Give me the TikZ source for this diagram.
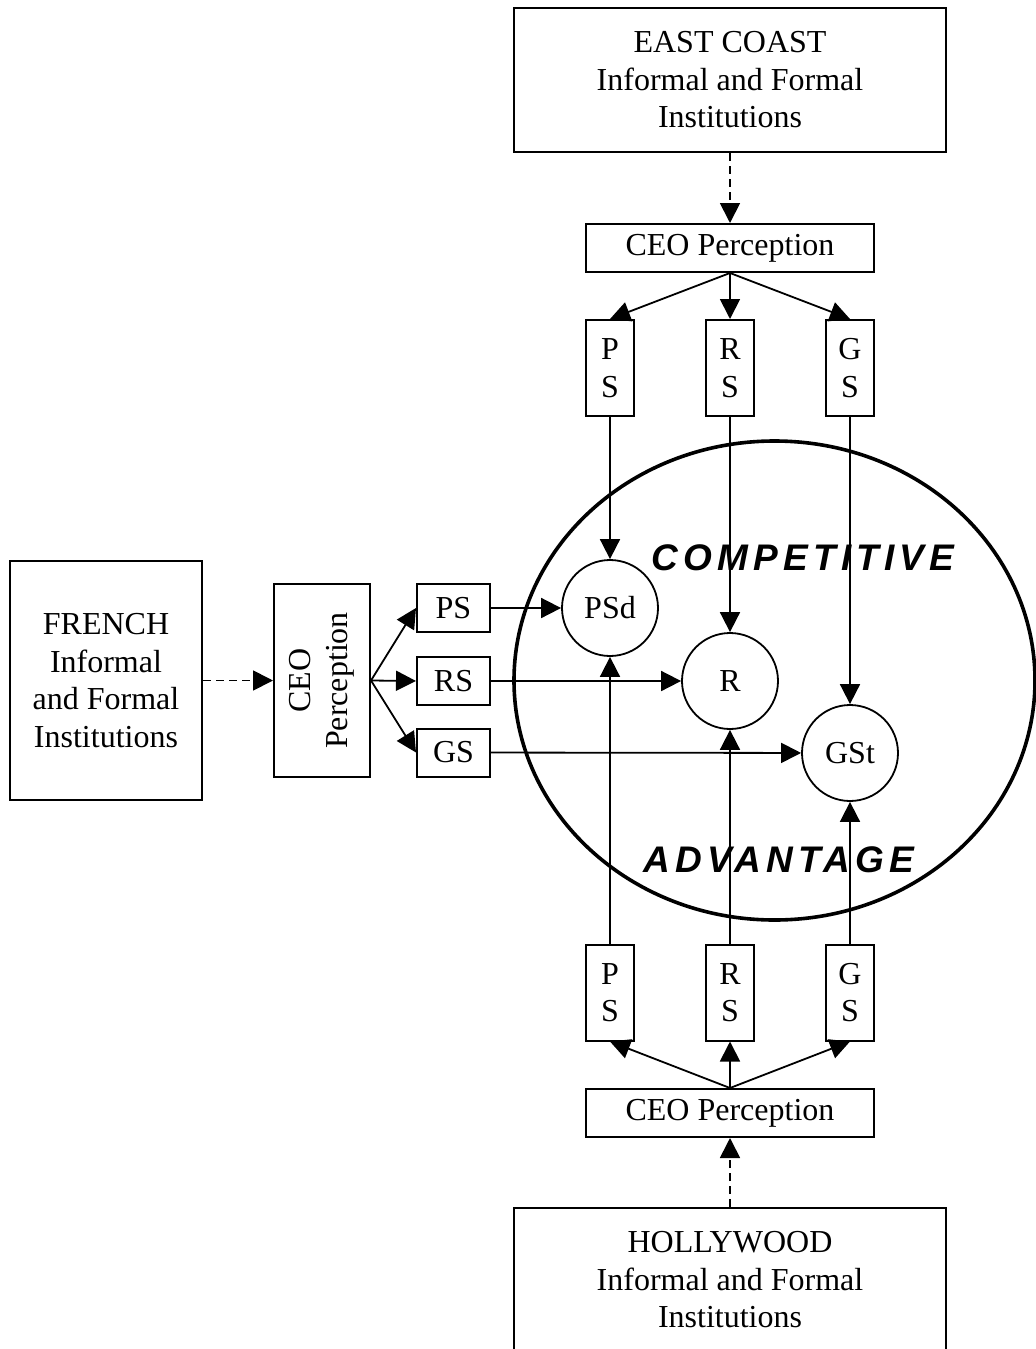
\documentclass[tikz,border=0pt]{standalone}
\usepackage{fontspec}
\setmainfont{Liberation Serif}
\newfontfamily\advfont[LetterSpace=14]{Liberation Sans}
\usetikzlibrary{arrows.meta}

\begin{document}
\begin{tikzpicture}[x=0.5pt,y=-0.5pt,
    every node/.style={font=\fontsize{16}{18.75}\selectfont},
    box/.style={draw, line width=1pt, inner sep=0pt, align=center},
    ring/.style={draw, circle, line width=0.9pt, minimum size=48pt, inner sep=0pt},
    bigword/.style={font=\advfont\fontsize{18.5}{22}\selectfont\bfseries\itshape},
    arr/.style={line width=0.9pt, -{Triangle[length=10pt,width=10pt]}},
    dasharr/.style={arr, dash pattern=on 4pt off 2.5pt}]
  \useasboundingbox (0,0) rectangle (1036,1349);
  % competitive advantage
  \draw [line width=1.8pt] (774.5,680.5) ellipse [x radius=130.25pt, y radius=119.75pt];
  \node [bigword] (comp) at (803,558) {COMPETITIVE};
  \node [bigword] (adv) at (779,860) {ADVANTAGE};
  \node [ring] (psd) at (610,608) {PSd};
  \node [ring] (res) at (730,681) {R};
  \node [ring] (gst) at (850,753) {GSt};
  % east coast
  \node [box, minimum width=216pt, minimum height=72pt] (east) at (730,80) {EAST COAST\\Informal and Formal\\Institutions};
  \node [box, minimum width=144pt, minimum height=24pt] (ceoTop) at (730,248) {CEO Perception};
  \node [box, minimum width=24pt, minimum height=48pt] (psTop) at (610,368) {P\\S};
  \node [box, minimum width=24pt, minimum height=48pt] (rsTop) at (730,368) {R\\S};
  \node [box, minimum width=24pt, minimum height=48pt] (gsTop) at (850,368) {G\\S};
  % french
  \node [box, minimum width=96pt, minimum height=119.5pt] (french) at (106,680.5) {FRENCH\\Informal\\and Formal\\Institutions};
  \node [box, minimum width=48pt, minimum height=96.5pt] (ceoLeft) at (322,680.5) {};
  \node [rotate=90, align=center] (ceoLeftText) at (ceoLeft) {CEO\\Perception};
  \node [box, minimum width=36.5pt, minimum height=24pt] (psLeft) at (453.5,608) {PS};
  \node [box, minimum width=36.5pt, minimum height=24pt] (rsLeft) at (453.5,681) {RS};
  \node [box, minimum width=36.5pt, minimum height=24pt] (gsLeft) at (453.5,752.5) {GS};
  % hollywood
  \node [box, minimum width=24pt, minimum height=48pt] (psBot) at (610,992.5) {P\\S};
  \node [box, minimum width=24pt, minimum height=48pt] (rsBot) at (730,992.5) {R\\S};
  \node [box, minimum width=24pt, minimum height=48pt] (gsBot) at (850,992.5) {G\\S};
  \node [box, minimum width=144pt, minimum height=24pt] (ceoBot) at (730,1113) {CEO Perception};
  \node [box, minimum width=216pt, minimum height=72pt] (hollywood) at (730,1280) {HOLLYWOOD\\Informal and Formal\\Institutions};
  % connectors
  \draw [dasharr] (east) -- (ceoTop);
  \draw [dasharr] (french) -- (ceoLeft);
  \draw [dasharr] (hollywood) -- (ceoBot);
  \foreach \n in {psTop,rsTop,gsTop}
    \draw [arr] (ceoTop.south) -- (\n.north);
  \foreach \n in {psLeft,rsLeft,gsLeft}
    \draw [arr] (ceoLeft.east) -- (\n.west);
  \foreach \n in {psBot,rsBot,gsBot}
    \draw [arr] (ceoBot.north) -- (\n.south);
  \draw [arr] (psTop) -- (psd);
  \draw [arr] (rsTop) -- (res);
  \draw [arr] (gsTop) -- (gst);
  \draw [arr] (psLeft) -- (psd);
  \draw [arr] (rsLeft) -- (res);
  \draw [arr] (gsLeft) -- (gst);
  \draw [arr] (psBot) -- (psd);
  \draw [arr] (rsBot) -- (res);
  \draw [arr] (gsBot) -- (gst);
\end{tikzpicture}
\end{document}
